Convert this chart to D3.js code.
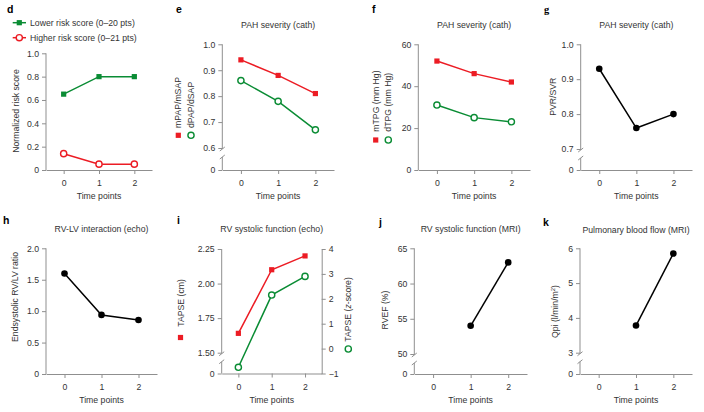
<!DOCTYPE html>
<html>
<head>
<meta charset="utf-8">
<script src="https://cdn.jsdelivr.net/npm/d3@7"></script>
<style>
  body { margin: 0; background: #fff; }
  svg { display: block; font-family: "Liberation Sans", Arial, sans-serif; }
</style>
</head>
<body>
<svg id="chart" width="704" height="412"></svg>
<script>
//
// Data
//
var timePoints = [0, 1, 2]
var riskLower = [0.65, 0.80, 0.80]
var riskHigher = [0.14, 0.05, 0.05]
var mpapRatio = [0.94, 0.88, 0.81]
var dpapRatio = [0.86, 0.78, 0.67]
var mtpg = [52, 46, 42]
var dtpg = [31, 25, 23]
var pvrSvr = [0.93, 0.76, 0.80]
var rvlvRatio = [1.60, 0.94, 0.86]
var tapseCm = [1.64, 2.10, 2.20]
var tapseZ = [-0.75, 2.15, 2.90]
var rvef = [null, 54, 63]
var qpi = [null, 3.78, 5.85]

var ticksRisk = [0, 0.2, 0.4, 0.6, 0.8, 1.0]
var ticksPap = [0.6, 0.7, 0.8, 0.9, 1.0]
var ticksTpg = [0, 20, 40, 60]
var ticksPvr = [0.7, 0.8, 0.9, 1.0]
var ticksRvlv = [0, 0.5, 1.0, 1.5, 2.0]
var ticksTapse = [1.5, 1.75, 2.0, 2.25]
var ticksTapseZ = [-1, 0, 1, 2, 3, 4]
var ticksRvef = [50, 55, 60, 65]
var ticksQpi = [3, 4, 5, 6]

//
// Style
//
var red = '#ec1c24'
var green = '#0a8c34'
var black = '#000'
var axisColor = '#8f8f8f'
var textColor = '#333'
var fs = 8.7

var svg = d3.select('#chart')
svg.append('rect').attr('width', 704).attr('height', 412).attr('fill', '#fff')

var fmt1 = function(d) { return d === 0 ? '0' : d3.format('.1f')(d) }
var fmt2 = function(d) { return d === 0 ? '0' : d3.format('.2f')(d) }
var fmtInt = d3.format('d')

function marker(g, type, cx, cy, color) {
  if (type === 'square') {
    g.append('rect').attr('x', cx - 2.6).attr('y', cy - 2.6)
      .attr('width', 5.2).attr('height', 5.2).attr('fill', color)
  } else if (type === 'circle') {
    g.append('circle').attr('cx', cx).attr('cy', cy).attr('r', 3.1)
      .attr('fill', '#fff').attr('stroke', color).attr('stroke-width', 1.4)
  } else {
    g.append('circle').attr('cx', cx).attr('cy', cy).attr('r', 3.3).attr('fill', color)
  }
}

function styleAxis(a) {
  a.attr('font-size', null).attr('font-family', null)
  a.selectAll('line').attr('stroke', axisColor)
  a.selectAll('path').attr('stroke', axisColor)
  a.selectAll('text').attr('fill', textColor).style('font-size', fs + 'px')
}

function panel(p) {
  var g = svg.append('g')
  var x = d3.scaleLinear().domain([-0.5, 2.5]).range([p.left, p.right])
  var top = p.ticks[p.ticks.length - 1]
  var y, yTicks
  if (p.breakY) {
    y = d3.scaleLinear().domain([0, p.ticks[0], top]).range([p.bottom, p.breakY, p.top])
    yTicks = [0].concat(p.ticks)
  } else {
    y = d3.scaleLinear().domain([0, top]).range([p.bottom, p.top])
    yTicks = p.ticks
  }

  // x axis
  var xa = g.append('g').attr('transform', 'translate(0,' + p.bottom + ')')
    .call(d3.axisBottom(x).tickValues(timePoints).tickSize(4).tickSizeOuter(0)
      .tickPadding(6).tickFormat(fmtInt))
  styleAxis(xa)

  // y axis (left), with a break above zero when needed
  var ya = g.append('g').attr('transform', 'translate(' + p.left + ',0)')
    .call(d3.axisLeft(y).tickValues(yTicks).tickSize(4).tickPadding(3).tickFormat(p.fmt))
  ya.select('.domain').remove()
  styleAxis(ya)
  if (p.breakY) {
    var b = p.breakY
    ya.append('path').attr('fill', 'none').attr('stroke', axisColor)
      .attr('d', 'M0,' + p.top + 'V' + (b + 1) +
        'M-2.5,' + (b + 3) + 'L2.5,' + (b - 1) +
        'M-2.5,' + (b + 11) + 'L2.5,' + (b + 7) +
        'M0,' + (b + 9) + 'V' + p.bottom)
  } else {
    ya.append('path').attr('fill', 'none').attr('stroke', axisColor)
      .attr('d', 'M0,' + p.top + 'V' + p.bottom)
  }

  // right axis
  var yR = null
  if (p.right2) {
    yR = d3.scaleLinear().domain([p.right2.ticks[0], p.right2.ticks[p.right2.ticks.length - 1]])
      .range([p.bottom, p.top])
    var ra = g.append('g').attr('transform', 'translate(' + p.right + ',0)')
      .call(d3.axisRight(yR).tickValues(p.right2.ticks).tickSize(4).tickSizeOuter(0)
        .tickPadding(3).tickFormat(fmtInt))
    styleAxis(ra)
  }

  // series
  p.series.forEach(function(s) {
    var ys = s.right ? yR : y
    var line = d3.line()
      .defined(function(d) { return d != null })
      .x(function(d, i) { return x(timePoints[i]) })
      .y(function(d) { return ys(d) })
    g.append('path').datum(s.values).attr('fill', 'none')
      .attr('stroke', s.color).attr('stroke-width', 1.5).attr('d', line)
    s.values.forEach(function(v, i) {
      if (v == null) return
      marker(g, s.marker, x(timePoints[i]), ys(v), s.color)
    })
  })

  // texts
  var mid = x(1)
  g.append('text').attr('x', p.lx).attr('y', p.ly)
    .attr('font-weight', 'bold').attr('font-size', 10.5)
    .attr('font-family', p.serif ? '"Liberation Serif", serif' : null)
    .text(p.letter)
  if (p.title) {
    g.append('text').attr('x', mid).attr('y', p.titleY).attr('text-anchor', 'middle')
      .attr('font-size', fs).attr('fill', textColor).text(p.title)
  }
  g.append('text').attr('x', mid).attr('y', p.bottom + 29).attr('text-anchor', 'middle')
    .attr('font-size', fs).attr('fill', textColor).text('Time points')

  p.ylabels.forEach(function(l) {
    var t = g.append('text')
      .attr('transform', 'translate(' + (l.x + 3) + ',' + l.y + ') rotate(-90)')
      .attr('text-anchor', l.anchor || 'middle')
      .attr('font-size', fs).attr('fill', textColor)
    if (l.parts) {
      l.parts.forEach(function(part) {
        var ts = t.append('tspan').text(part.t)
        if (part.sup) ts.attr('baseline-shift', 'super').attr('font-size', 6)
        if (part.it) ts.attr('font-style', 'italic')
      })
    } else {
      t.text(l.text)
    }
    if (l.marker) marker(g, l.marker, l.x, l.my, l.color)
  })
}

//
// Panels
//
panel({
  letter: 'd', lx: 7, ly: 13,
  left: 46, right: 152, top: 53.3, bottom: 170,
  ticks: ticksRisk, fmt: fmt1,
  series: [
    { values: riskLower, color: green, marker: 'square' },
    { values: riskHigher, color: red, marker: 'circle' }
  ],
  ylabels: [{ text: 'Normalized risk score', x: 15.5, y: 111 }]
})

// legend of d
var legend = svg.append('g')
var legendItems = [
  { label: 'Lower risk score (0\u201320 pts)', color: green, marker: 'square', y: 22.7 },
  { label: 'Higher risk score (0\u201321 pts)', color: red, marker: 'circle', y: 37.7 }
]
legendItems.forEach(function(d) {
  legend.append('line').attr('x1', 12.7).attr('x2', 26).attr('y1', d.y).attr('y2', d.y)
    .attr('stroke', d.color).attr('stroke-width', 1.5)
  marker(legend, d.marker, 19.3, d.y, d.color)
  legend.append('text').attr('x', 30).attr('y', d.y + 3.1)
    .attr('font-size', fs).attr('fill', textColor).text(d.label)
})

panel({
  letter: 'e', lx: 176, ly: 13, title: 'PAH severity (cath)', titleY: 27.5,
  left: 222.3, right: 334, top: 44.3, bottom: 170, breakY: 148,
  ticks: ticksPap, fmt: fmt1,
  series: [
    { values: mpapRatio, color: red, marker: 'square' },
    { values: dpapRatio, color: green, marker: 'circle' }
  ],
  ylabels: [
    { text: 'mPAP/mSAP', x: 178.3, y: 128, anchor: 'start', marker: 'square', my: 135.3, color: red },
    { text: 'dPAP/dSAP', x: 191, y: 128, anchor: 'start', marker: 'circle', my: 135.3, color: green }
  ]
})

panel({
  letter: 'f', lx: 372, ly: 12.5, title: 'PAH severity (cath)', titleY: 27.5,
  left: 418.3, right: 530, top: 44.3, bottom: 170,
  ticks: ticksTpg, fmt: fmtInt,
  series: [
    { values: mtpg, color: red, marker: 'square' },
    { values: dtpg, color: green, marker: 'circle' }
  ],
  ylabels: [
    { text: 'mTPG (mm Hg)', x: 375.7, y: 131.7, anchor: 'start', marker: 'square', my: 140, color: red },
    { text: 'dTPG (mm Hg)', x: 388.3, y: 131.7, anchor: 'start', marker: 'circle', my: 140, color: green }
  ]
})

panel({
  letter: 'g', lx: 544, ly: 12.5, serif: true, title: 'PAH severity (cath)', titleY: 28,
  left: 580.7, right: 692, top: 44.3, bottom: 170, breakY: 149,
  ticks: ticksPvr, fmt: fmt1,
  series: [{ values: pvrSvr, color: black, marker: 'dot' }],
  ylabels: [{ text: 'PVR/SVR', x: 553.3, y: 96.7 }]
})

panel({
  letter: 'h', lx: 3, ly: 223.5, title: 'RV-LV interaction (echo)', titleY: 231.5,
  left: 46, right: 157, top: 248.3, bottom: 374,
  ticks: ticksRvlv, fmt: fmt1,
  series: [{ values: rvlvRatio, color: black, marker: 'dot' }],
  ylabels: [{ text: 'Endsystolic RV/LV ratio', x: 15, y: 297 }]
})

panel({
  letter: 'i', lx: 177, ly: 223.5, title: 'RV systolic function (echo)', titleY: 231.5,
  left: 221.7, right: 321.7, top: 249, bottom: 373.5, breakY: 352.7,
  ticks: ticksTapse, fmt: fmt2,
  right2: { ticks: ticksTapseZ },
  series: [
    { values: tapseCm, color: red, marker: 'square' },
    { values: tapseZ, color: green, marker: 'circle', right: true }
  ],
  ylabels: [
    { text: 'TAPSE (cm)', x: 180.5, y: 326.7, anchor: 'start', marker: 'square', my: 337.5, color: red },
    { parts: [{ t: 'TAPSE (' }, { t: 'z', it: true }, { t: '-score)' }],
      x: 348.3, y: 341.7, anchor: 'start', marker: 'circle', my: 349, color: green }
  ]
})

panel({
  letter: 'j', lx: 379, ly: 225.5, title: 'RV systolic function (MRI)', titleY: 231.5,
  left: 414.3, right: 527, top: 248.3, bottom: 374, breakY: 354,
  ticks: ticksRvef, fmt: fmtInt,
  series: [{ values: rvef, color: black, marker: 'dot' }],
  ylabels: [{ text: 'RVEF (%)', x: 384.5, y: 310 }]
})

panel({
  letter: 'k', lx: 543, ly: 225.5, title: 'Pulmonary blood flow (MRI)', titleY: 232.5,
  left: 580, right: 692, top: 248.3, bottom: 374, breakY: 352.7,
  ticks: ticksQpi, fmt: fmtInt,
  series: [{ values: qpi, color: black, marker: 'dot' }],
  ylabels: [{ parts: [{ t: 'Qpi (l/min/m' }, { t: '2', sup: true }, { t: ')' }], x: 555, y: 311.5 }]
})
</script>
</body>
</html>
